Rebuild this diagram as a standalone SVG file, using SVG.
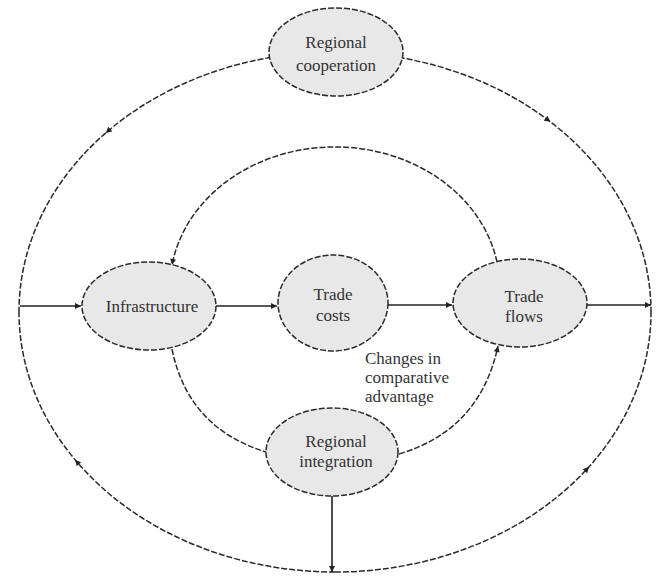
<svg xmlns="http://www.w3.org/2000/svg" width="658" height="579" viewBox="0 0 658 579">
<defs>
<marker id="arr" viewBox="0 0 10 10" refX="10" refY="5" markerWidth="8" markerHeight="6" orient="auto" markerUnits="userSpaceOnUse"><path d="M0,0 L10,5 L0,10 z" fill="#222"/></marker>
<marker id="mid" viewBox="0 0 10 10" refX="5" refY="5" markerWidth="7" markerHeight="6" orient="auto" markerUnits="userSpaceOnUse"><path d="M0,0 L10,5 L0,10 z" fill="#222"/></marker>
</defs>
<style>
.node{fill:#e8e8e8;stroke:#2a2a2a;stroke-width:1.5;stroke-dasharray:6 2}
.dash{fill:none;stroke:#2a2a2a;stroke-width:1.5;stroke-dasharray:6 2}
.solid{fill:none;stroke:#222;stroke-width:1.6}
text{font-family:"Liberation Serif","Times New Roman",serif;font-size:17px;fill:#333;text-anchor:middle}
</style>
<rect width="658" height="579" fill="#fff"/>
<g id="connectors">
<path class="dash" d="M335 52 A316 260 0 0 0 108 131 A316 260 0 0 0 19 312" marker-mid="url(#mid)"/>
<path class="dash" d="M335 52 A316 260 0 0 1 548 120 A316 260 0 0 1 651 312" marker-mid="url(#mid)"/>
<path class="dash" d="M335 572 A316 260 0 0 1 77 462 A316 260 0 0 1 19 312" marker-mid="url(#mid)"/>
<path class="dash" d="M335 572 A316 260 0 0 0 587 469 A316 260 0 0 0 651 312" marker-mid="url(#mid)"/>
<path class="dash" d="M497 262 A165 141 0 0 0 172 265" marker-end="url(#arr)"/>
<path class="dash" d="M172 349 Q188 428 266 452"/>
<path class="dash" d="M399 454 Q480 430 498 346" marker-end="url(#arr)"/>
<path class="solid" d="M20 306 L81 306" marker-end="url(#arr)"/>
<path class="solid" d="M216 306 L277 306" marker-end="url(#arr)"/>
<path class="solid" d="M388 305 L452 305" marker-end="url(#arr)"/>
<path class="solid" d="M587 305 L651 305" marker-end="url(#arr)"/>
<path class="solid" d="M332 496 L332 572" marker-end="url(#arr)"/>
</g>
<g id="regional-cooperation">
<ellipse class="node" cx="336" cy="52" rx="67" ry="44"/>
<text x="336" y="48">Regional</text>
<text x="336" y="71">cooperation</text>
</g>
<g id="infrastructure">
<ellipse class="node" cx="149" cy="306" rx="67" ry="44"/>
<text x="152" y="312">Infrastructure</text>
</g>
<g id="trade-costs">
<ellipse class="node" cx="333" cy="303" rx="55" ry="48"/>
<text x="333" y="300">Trade</text>
<text x="333" y="321">costs</text>
</g>
<g id="trade-flows">
<ellipse class="node" cx="520" cy="303" rx="67" ry="44"/>
<text x="524" y="302">Trade</text>
<text x="524" y="322">flows</text>
</g>
<g id="regional-integration">
<ellipse class="node" cx="332" cy="452" rx="66" ry="44"/>
<text x="336" y="447">Regional</text>
<text x="336" y="467">integration</text>
</g>
<g id="label">
<text x="365" y="364" style="text-anchor:start">Changes in</text>
<text x="365" y="383" style="text-anchor:start">comparative</text>
<text x="365" y="402" style="text-anchor:start">advantage</text>
</g>
</svg>
